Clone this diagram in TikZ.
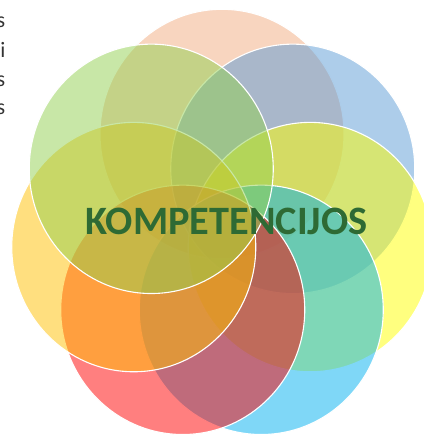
\documentclass[tikz,border=0pt]{standalone}
\usepackage{fontspec}
\setmainfont{Carlito}
\usepackage{xcolor}
\usepackage{tikz}

\definecolor{peach}{RGB}{241,171,127}
\definecolor{skyblue}{RGB}{91,155,213}
\definecolor{lemon}{RGB}{255,255,0}
\definecolor{aqua}{RGB}{0,176,240}
\definecolor{scarlet}{RGB}{255,0,0}
\definecolor{gold}{RGB}{255,192,0}
\definecolor{leaf}{RGB}{146,208,80}
\definecolor{titlegreen}{RGB}{46,106,52}

\tikzset{
  petal/.style={draw=white, line width=1.1pt, fill opacity=0.5},
  cut/.style={anchor=base east, inner sep=0pt, text=black!80,
    font=\fontsize{22}{29}\selectfont}
}

\begin{document}
\begin{tikzpicture}[x=1pt, y=1pt]
    \useasboundingbox (0, 0) rectangle (423, 435);
    \begin{scope}[shift={(222, 208.5)}, yscale=1.022]
      \draw[petal, fill=peach] (90:90.5) circle (122pt);
      \draw[petal, fill=skyblue] (38.57:90.5) circle (122pt);
      \draw[petal, fill=lemon] (-12.86:90.5) circle (122pt);
      \draw[petal, fill=aqua] (-64.29:90.5) circle (122pt);
      \draw[petal, fill=scarlet] (-115.71:90.5) circle (122pt);
      \draw[petal, fill=gold] (-167.14:90.5) circle (122pt);
      \draw[petal, fill=leaf] (141.43:90.5) circle (122pt);
    \end{scope}
    \node[anchor=base, inner sep=0pt, text=titlegreen,
      font=\fontsize{40.3}{42}\selectfont\bfseries] (title) at (226.5, 200) {KOMPETENCIJOS};
    \node[cut] (s1) at (5.5, 407) {s};
    \node[cut] (s2) at (5.5, 377) {i};
    \node[cut] (s3) at (5.5, 348) {s};
    \node[cut] (s4) at (5.5, 320) {s};
  \end{tikzpicture}
\end{document}
